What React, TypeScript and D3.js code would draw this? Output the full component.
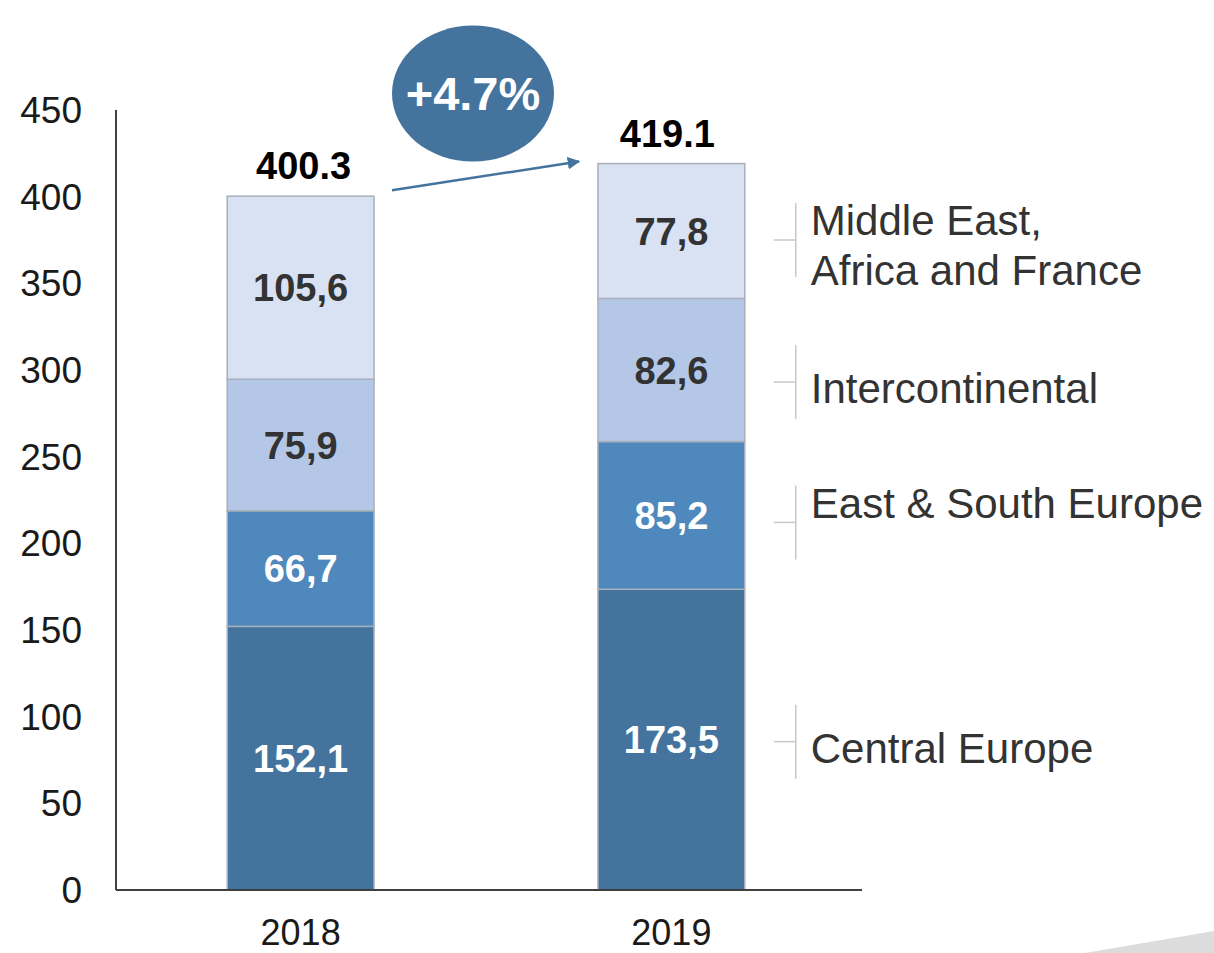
import * as d3 from "d3";

const years = ["2018", "2019"];
const regions = [
  "Central Europe",
  "East & South Europe",
  "Intercontinental",
  "Middle East, Africa and France",
];
const legendLines = [["Central Europe"], ["East & South Europe"], ["Intercontinental"], ["Middle East,", "Africa and France"]];
const values2018 = [152.1, 66.7, 75.9, 105.6];
const values2019 = [173.5, 85.2, 82.6, 77.8];
const totals = ["400.3", "419.1"];
const growthLabel = "+4.7%";
const yTicks = [0, 50, 100, 150, 200, 250, 300, 350, 400, 450];

const colors = ["#44739e", "#4f88bc", "#b4c7e7", "#d9e2f3"];
const labelColors = ["#ffffff", "#ffffff", "#333333", "#333333"];
const fmt = (v: number) => v.toFixed(1).replace(".", ",");

// legend layout tweaks (px): bracket shift from segment middle, text shift from bracket
const bracketShift = [2, 7, 12, 9];
const textShift = [6, -20, 6, 5];

const W = 1214;
const H = 953;
const FONT = "'Liberation Sans', Arial, sans-serif";

export default function App() {
  const x = d3.scaleBand().domain(years).range([116, 856]).paddingInner(0.604).paddingOuter(0.3);
  const y = d3.scaleLinear().domain([0, 450]).range([890, 110]);

  const rows = [values2018, values2019].map((vals, i) => {
    const obj: any = { year: years[i] };
    regions.forEach((r, j) => (obj[r] = vals[j]));
    return obj;
  });
  const series = d3.stack().keys(regions)(rows);

  const bw = x.bandwidth();
  const x18 = x("2018")!;
  const x19 = x("2019")!;
  const top18 = y(d3.sum(values2018));
  const top19 = y(d3.sum(values2019));

  // growth bubble between the bars, arrow from 2018 top to 2019 top
  const bubbleCx = (x18 + bw + x19) / 2 - 13;
  const bubbleCy = top19 - 70;
  const arrowStart: [number, number] = [x18 + bw + 18, top18 - 6];
  const arrowEnd: [number, number] = [x19 - 19, top19 - 2];

  const legendX = x19 + bw + 51;
  const last = series.map((s) => s[1]);

  return (
    <svg
      width={W}
      height={H}
      style={{ position: "absolute", left: 0, top: 0, background: "#fff" }}
      fontFamily={FONT}
    >
      <defs>
        <marker id="arrowhead" viewBox="0 0 10 10" refX="9" refY="5" markerWidth="5" markerHeight="5" orient="auto">
          <path d="M0,0 L10,5 L0,10 z" fill="#44739e" />
        </marker>
      </defs>

      {/* decorative corner */}
      <polygon points={`1085,${H} ${W},${H - 22} ${W},${H}`} fill="#dcdcdc" />

      {/* y tick labels */}
      {yTicks.map((t) => (
        <text key={t} x={82} y={y(t)} dy="0.35em" textAnchor="end" fontSize={37} fill="#1a1a1a">
          {t}
        </text>
      ))}

      {/* bars */}
      {series.map((s, i) => (
        <g key={s.key}>
          {s.map((d) => {
            const yr = (d.data as any).year as string;
            return (
              <g key={yr}>
                <rect
                  x={x(yr)}
                  y={y(d[1])}
                  width={bw}
                  height={y(d[0]) - y(d[1])}
                  fill={colors[i]}
                  stroke="#a7b0bb"
                  strokeWidth={1.5}
                />
                <text
                  x={x(yr)! + bw / 2}
                  y={(y(d[0]) + y(d[1])) / 2}
                  dy="0.36em"
                  textAnchor="middle"
                  fontSize={38}
                  fontWeight="bold"
                  fill={labelColors[i]}
                >
                  {fmt(d[1] - d[0])}
                </text>
              </g>
            );
          })}
        </g>
      ))}

      {/* axes */}
      <line x1={116} x2={116} y1={y(450)} y2={y(0)} stroke="#404040" strokeWidth={2} />
      <line x1={116} x2={862} y1={y(0)} y2={y(0)} stroke="#404040" strokeWidth={2} />

      {years.map((yr) => (
        <text key={yr} x={x(yr)! + bw / 2} y={y(0) + 55} textAnchor="middle" fontSize={36} fill="#1a1a1a">
          {yr}
        </text>
      ))}

      {/* totals */}
      <text x={x18 + bw / 2 + 3} y={top18 - 17} textAnchor="middle" fontSize={38} fontWeight="bold" fill="#000">
        {totals[0]}
      </text>
      <text x={x19 + bw / 2 - 4} y={top19 - 17} textAnchor="middle" fontSize={38} fontWeight="bold" fill="#000">
        {totals[1]}
      </text>

      {/* growth */}
      <line
        x1={arrowStart[0]}
        y1={arrowStart[1]}
        x2={arrowEnd[0]}
        y2={arrowEnd[1]}
        stroke="#44739e"
        strokeWidth={2.5}
        markerEnd="url(#arrowhead)"
      />
      <ellipse cx={bubbleCx} cy={bubbleCy} rx={81} ry={68} fill="#44739e" />
      <text x={bubbleCx} y={bubbleCy} dy="0.36em" textAnchor="middle" fontSize={47} fontWeight="bold" fill="#fff">
        {growthLabel}
      </text>

      {/* legend brackets */}
      {last.map((d, i) => {
        const cy = (y(d[0]) + y(d[1])) / 2 + bracketShift[i];
        const ty = cy + textShift[i];
        const lines = legendLines[i];
        return (
          <g key={i}>
            <line x1={legendX} x2={legendX} y1={cy - 37} y2={cy + 37} stroke="#c8c8c8" strokeWidth={1.5} />
            <line x1={legendX - 22} x2={legendX} y1={cy} y2={cy} stroke="#c8c8c8" strokeWidth={1.5} />
            {lines.map((l, k) => (
              <text
                key={k}
                x={legendX + 15}
                y={ty + (k - (lines.length - 1) / 2) * 50}
                dy="0.36em"
                fontSize={42}
                fill="#333"
              >
                {l}
              </text>
            ))}
          </g>
        );
      })}
    </svg>
  );
}
